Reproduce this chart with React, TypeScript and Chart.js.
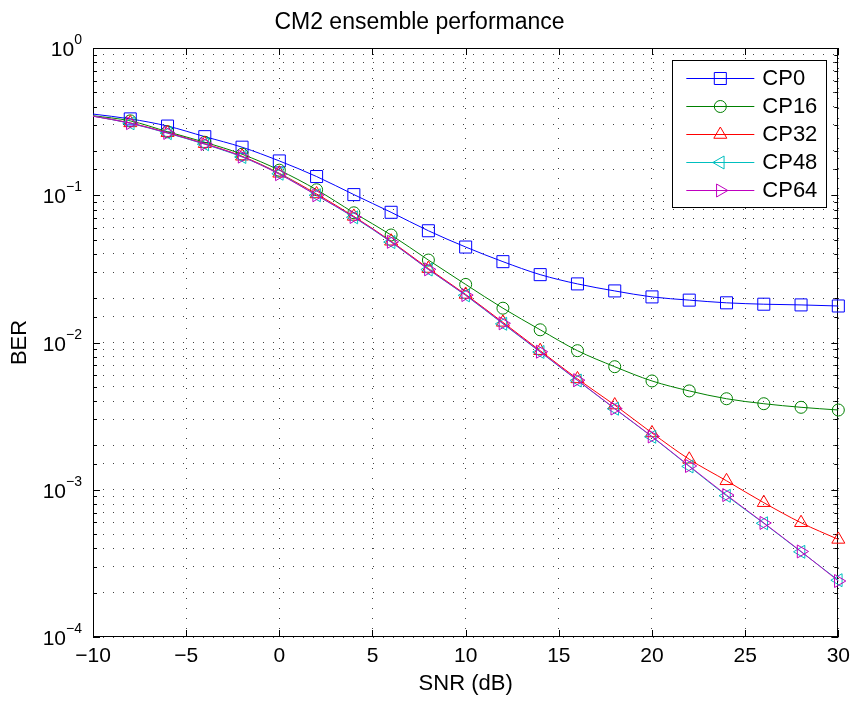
import React, { useEffect, useRef } from 'react';
import { Chart, registerables } from 'chart.js';
import { drawPoint } from 'chart.js/helpers';

Chart.register(...registerables);

// ---------- data ----------
const snr = [-10, -8, -6, -4, -2, 0, 2, 4, 6, 8, 10, 12, 14, 16, 18, 20, 22, 24, 26, 28, 30];
const cp0 = [0.356, 0.33, 0.295, 0.25, 0.212, 0.171, 0.134, 0.101, 0.0766, 0.0574, 0.0445, 0.0354, 0.0289, 0.025, 0.0224, 0.0204, 0.0194, 0.0186, 0.0182, 0.018, 0.0177];
const cp16 = [0.347, 0.32, 0.27, 0.229, 0.19, 0.148, 0.109, 0.076, 0.0537, 0.0363, 0.0248, 0.0171, 0.0122, 0.0088, 0.00685, 0.00548, 0.00469, 0.00415, 0.00384, 0.00363, 0.00348];
const cp32 = [0.345, 0.31, 0.266, 0.224, 0.184, 0.141, 0.102, 0.0718, 0.0487, 0.0318, 0.0212, 0.0137, 0.0088, 0.00566, 0.00376, 0.00243, 0.00161, 0.00115, 0.000817, 0.000597, 0.00046];
const cp48 = [0.345, 0.308, 0.264, 0.222, 0.182, 0.14, 0.1, 0.0708, 0.0481, 0.0313, 0.0209, 0.0134, 0.00862, 0.00552, 0.00355, 0.00229, 0.00144, 0.00091, 0.000592, 0.000379, 0.000243];
const cp64 = [0.344, 0.309, 0.265, 0.223, 0.183, 0.139, 0.1, 0.0712, 0.0483, 0.0314, 0.021, 0.0135, 0.00866, 0.00555, 0.00356, 0.0023, 0.00145, 0.00092, 0.000595, 0.000381, 0.00024];

const seriesLabels = ['CP0', 'CP16', 'CP32', 'CP48', 'CP64'];
const seriesValues = [cp0, cp16, cp32, cp48, cp64];
const xTickValues = [-10, -5, 0, 5, 10, 15, 20, 25, 30];
const yTickExponents = [0, -1, -2, -3, -4];
const titleText = 'CM2 ensemble performance';
const xLabel = 'SNR (dB)';
const yLabel = 'BER';

// ---------- styles ----------
const FONT = "'Liberation Sans', Arial, Helvetica, sans-serif";
const seriesColors = ['#0000ff', '#008000', '#ff0000', '#00bfbf', '#bf00bf'];
const seriesStyles = ['rect', 'circle', 'triangle', 'triangle', 'triangle'];
const seriesRotation = [0, 0, 0, -90, 90];
const seriesRadius = [8.5, 6, 7.5, 7.5, 7.5];

const minus = (v: number) => (v < 0 ? '\u2212' + Math.abs(v) : String(v));
const isPow10 = (v: number) => Math.abs(Math.log10(v) - Math.round(Math.log10(v))) < 1e-9;

const matlabAxes = {
  id: 'matlabAxes',
  beforeDatasetsDraw(chart: any) {
    const ctx = chart.ctx;
    const { left, right, top, bottom } = chart.chartArea;
    const xs = chart.scales.x;
    const ys = chart.scales.y;
    ctx.save();
    ctx.strokeStyle = '#000';
    ctx.lineWidth = 1;
    ctx.beginPath();
    xs.ticks.forEach((t: any) => {
      const px = Math.round(xs.getPixelForValue(t.value)) + 0.5;
      ctx.moveTo(px, bottom);
      ctx.lineTo(px, bottom - 7);
      ctx.moveTo(px, top);
      ctx.lineTo(px, top + 7);
    });
    ys.ticks.forEach((t: any) => {
      const py = Math.round(ys.getPixelForValue(t.value)) + 0.5;
      const len = isPow10(t.value) ? 7 : 4;
      ctx.moveTo(left, py);
      ctx.lineTo(left + len, py);
      ctx.moveTo(right, py);
      ctx.lineTo(right - len, py);
    });
    ctx.stroke();
    ctx.strokeRect(Math.round(left) + 0.5, Math.round(top) + 0.5, Math.round(right - left) - 1, Math.round(bottom - top) - 1);
    ctx.restore();
  },
  afterDraw(chart: any) {
    const ctx = chart.ctx;
    const ys = chart.scales.y;
    const { left, right, top } = chart.chartArea;
    ctx.save();
    ctx.fillStyle = '#000';
    // y tick labels as 10^n
    yTickExponents.forEach((e) => {
      const py = ys.getPixelForValue(Math.pow(10, e));
      const expStr = minus(e);
      ctx.font = `14px ${FONT}`;
      const ew = ctx.measureText(expStr).width;
      ctx.font = `21px ${FONT}`;
      const bw = ctx.measureText('10').width;
      const xEnd = left - 11;
      const x0 = xEnd - ew - bw;
      ctx.textBaseline = 'alphabetic';
      ctx.textAlign = 'left';
      ctx.fillText('10', x0, py + 8);
      ctx.font = `14px ${FONT}`;
      ctx.fillText(expStr, x0 + bw, py - 4);
    });

    // legend
    const bw = 154, bh = 147;
    const bx = right - 12 - bw;
    const by = top + 12;
    ctx.fillStyle = '#fff';
    ctx.fillRect(bx, by, bw, bh);
    ctx.strokeStyle = '#000';
    ctx.lineWidth = 1;
    ctx.strokeRect(Math.round(bx) + 0.5, Math.round(by) + 0.5, bw, bh);
    chart.data.datasets.forEach((ds: any, i: number) => {
      const cy = by + 17.5 + i * 28.2;
      ctx.strokeStyle = ds.borderColor;
      ctx.lineWidth = 1;
      ctx.beginPath();
      ctx.moveTo(bx + 14, Math.round(cy) + 0.5);
      ctx.lineTo(bx + 82, Math.round(cy) + 0.5);
      ctx.stroke();
      ctx.fillStyle = 'rgba(0,0,0,0)';
      drawPoint(ctx, {
        pointStyle: seriesStyles[i],
        rotation: seriesRotation[i],
        radius: seriesRadius[i],
        borderWidth: 1,
      } as any, bx + 48, Math.round(cy) + 0.5);
      ctx.fillStyle = '#000';
      ctx.font = `22px ${FONT}`;
      ctx.textAlign = 'left';
      ctx.textBaseline = 'middle';
      ctx.fillText(ds.label, bx + 90, cy + 1);
    });
    ctx.restore();
  },
};

export default function App() {
  const ref = useRef<HTMLCanvasElement>(null);
  useEffect(() => {
    if (!ref.current) return;
    const datasets = seriesLabels.map((label, i) => ({
      label,
      data: snr.map((x, j) => ({ x, y: seriesValues[i][j] })),
      borderColor: seriesColors[i],
      backgroundColor: 'rgba(0,0,0,0)',
      borderWidth: 1,
      pointStyle: seriesStyles[i],
      rotation: seriesRotation[i],
      pointRadius: (c: any) => (c.dataIndex === 0 ? 0 : seriesRadius[i]),
      pointBorderColor: seriesColors[i],
      pointBackgroundColor: 'rgba(0,0,0,0)',
      pointBorderWidth: 1,
      cubicInterpolationMode: 'monotone',
      order: seriesLabels.length - i,
      clip: false,
    }));
    const chart = new Chart(ref.current, {
      type: 'line',
      data: { datasets } as any,
      plugins: [matlabAxes],
      options: {
        animation: false,
        responsive: false,
        events: [],
        layout: { padding: { left: 0, right: 18, top: 0, bottom: 0 } },
        plugins: {
          legend: { display: false },
          tooltip: { enabled: false },
          title: {
            display: true,
            text: titleText,
            color: '#000',
            font: { family: FONT, size: 23, weight: 'normal', lineHeight: 1.2 },
            padding: { top: 9, bottom: 11.4 },
          },
        },
        scales: {
          x: {
            type: 'linear',
            min: -10,
            max: 30,
            afterBuildTicks: (s: any) => {
              s.ticks = xTickValues.map((v) => ({ value: v }));
            },
            afterFit: (s: any) => {
              s.height = 72;
            },
            ticks: {
              autoSkip: false,
              maxRotation: 0,
              color: '#000',
              padding: 7,
              font: { family: FONT, size: 21 },
              callback: (v: any) => minus(Number(v)),
            },
            grid: { color: 'rgba(0,0,0,0.75)', lineWidth: 1, drawTicks: false },
            border: { display: false, dash: [1, 9] },
            title: {
              display: true,
              text: xLabel,
              color: '#000',
              font: { family: FONT, size: 22, lineHeight: 1.2 },
              padding: { top: 0, bottom: 12 },
            },
          },
          y: {
            type: 'logarithmic',
            min: 1e-4,
            max: 1,
            afterFit: (s: any) => {
              s.width = 93;
            },
            ticks: { display: false },
            grid: { color: 'rgba(0,0,0,0.75)', lineWidth: 1, drawTicks: false },
            border: { display: false, dash: [1, 9] },
            title: {
              display: true,
              text: yLabel,
              color: '#000',
              font: { family: FONT, size: 22, lineHeight: 1.2 },
              padding: { top: 7, bottom: 0 },
            },
          },
        },
      } as any,
    });
    return () => chart.destroy();
  }, []);
  return (
    <div style={{ position: 'absolute', left: 0, top: 0, width: 857, height: 709, background: '#fff' }}>
      <canvas ref={ref} width={857} height={709} style={{ display: 'block' }} />
    </div>
  );
}
